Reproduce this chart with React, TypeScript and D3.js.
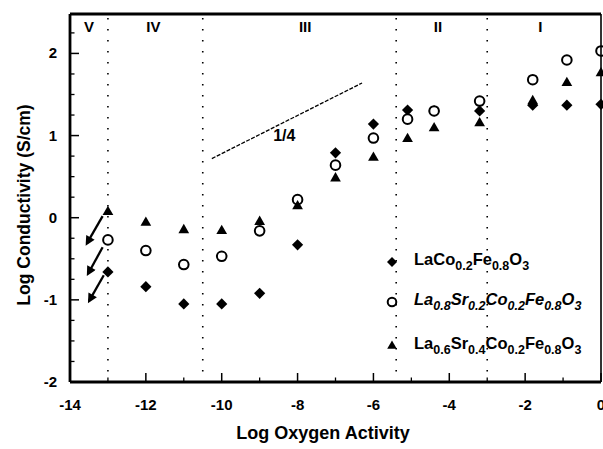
import React from "react";
import * as d3 from "d3";

// ---- data ----
const logOxygenActivity = [-13, -12, -11, -10, -9, -8, -7, -6, -5.1, -4.4, -3.2, -1.8, -0.9, 0];
const laCoFe = [-0.66, -0.84, -1.05, -1.05, -0.92, -0.33, 0.79, 1.14, 1.31, 1.3, 1.3, 1.37, 1.37, 1.38];
const laSr02 = [-0.27, -0.4, -0.57, -0.47, -0.16, 0.22, 0.64, 0.97, 1.2, 1.3, 1.42, 1.68, 1.92, 2.03];
const laSr04 = [0.07, -0.06, -0.15, -0.16, -0.05, 0.14, 0.48, 0.73, 0.96, 1.09, 1.15, 1.42, 1.64, 1.76];

const seriesNames = ["LaCo_{0.2}Fe_{0.8}O_{3}", "La_{0.8}Sr_{0.2}Co_{0.2}Fe_{0.8}O_{3}", "La_{0.6}Sr_{0.4}Co_{0.2}Fe_{0.8}O_{3}"];
const seriesItalic = [false, true, false];
const seriesShapes = ["diamond", "circle", "triangle"];

const xTicks = [-14, -12, -10, -8, -6, -4, -2, 0];
const xMinorTicks = [-13, -11, -9, -7, -5, -3, -1];
const yTicks = [-2, -1, 0, 1, 2];
const yMinorTicks = [-1.75, -1.5, -1.25, -0.75, -0.5, -0.25, 0.25, 0.5, 0.75, 1.25, 1.5, 1.75, 2.25];

const regionBounds = [-13, -10.5, -5.4, -3];
const regionLabels = ["V", "IV", "III", "II", "I"];
const regionLabelX = [-13.5, -11.8, -7.8, -4.3, -1.6];

// arrows [x1, y1, x2, y2]
const arrows = [
  [-13.14, 0.02, -13.55, -0.31],
  [-13.14, -0.36, -13.52, -0.68],
  [-13.11, -0.7, -13.49, -1.01],
];
// slope line
const slopeLine = [[-10.26, 0.72], [-6.3, 1.64]];
const slopeLabel = { x: -8.35, y: 0.93, text: "1/4" };

const W = 603, H = 449;
const FONT = "'Liberation Sans', Arial, Helvetica, sans-serif";

const x = d3.scaleLinear().domain([-14, 0]).range([70, 601]);
const y = d3.scaleLinear().domain([-2, 2.48]).range([382, 14]);

const diamondType: any = (d3 as any).symbolDiamond2 || {
  draw(ctx: any, size: number) {
    const r = Math.sqrt(size) * 0.62625;
    ctx.moveTo(0, -r); ctx.lineTo(r, 0); ctx.lineTo(0, r); ctx.lineTo(-r, 0); ctx.closePath();
  },
};

function markerPath(shape: string, scale = 1) {
  if (shape === "diamond") return d3.symbol().type(diamondType).size(80 * scale)()!;
  if (shape === "triangle") return d3.symbol().type(d3.symbolTriangle).size(50 * scale)()!;
  return d3.symbol().type(d3.symbolCircle).size(72 * scale)()!;
}

function Marker({ shape, cx, cy, scale = 1 }: { shape: string; cx: number; cy: number; scale?: number }) {
  if (shape === "circle") {
    return <circle cx={cx} cy={cy} r={4.8 * Math.sqrt(scale)} fill="white" stroke="black" strokeWidth={2} />;
  }
  return <path d={markerPath(shape, scale)} transform={`translate(${cx},${cy})`} fill="black" />;
}

function parseFormula(s: string) {
  const parts: { t: string; sub: boolean }[] = [];
  const re = /_\{([^}]*)\}|([^_]+)/g;
  let m;
  while ((m = re.exec(s))) {
    if (m[1] !== undefined) parts.push({ t: m[1], sub: true });
    else parts.push({ t: m[2], sub: false });
  }
  return parts;
}

function Formula({ text, xPos, yPos, italic }: { text: string; xPos: number; yPos: number; italic: boolean }) {
  const parts = parseFormula(text);
  let prevSub = false;
  return (
    <text x={xPos} y={yPos} fontFamily={FONT} fontWeight="bold" fontSize={16.5} fontStyle={italic ? "italic" : "normal"}>
      {parts.map((p, i) => {
        const dy = p.sub && !prevSub ? 5 : !p.sub && prevSub ? -5 : 0;
        prevSub = p.sub;
        return (
          <tspan key={i} dy={dy} fontSize={p.sub ? 12.5 : 16.5}>
            {p.t}
          </tspan>
        );
      })}
    </text>
  );
}

export default function App() {
  const series = [laCoFe, laSr02, laSr04];
  const left = x.range()[0], right = x.range()[1];
  const top = y.range()[1], bottom = y.range()[0];
  const slopePath = d3.line()(slopeLine.map(([a, b]) => [x(a), y(b)]) as [number, number][])!;
  const legendY = [262, 302, 346];

  return (
    <svg width={W} height={H} style={{ position: "absolute", left: 0, top: 0, background: "white" }}>
      <rect width={W} height={H} fill="white" />
      {/* region dotted lines */}
      {regionBounds.map((b, i) => (
        <line key={i} x1={x(b)} x2={x(b)} y1={top + 4} y2={bottom - 2} stroke="black" strokeWidth={1.6} strokeDasharray="1.5,9.5" />
      ))}
      {regionLabels.map((l, i) => (
        <text key={i} x={x(regionLabelX[i])} y={32} textAnchor="middle" fontFamily={FONT} fontWeight="bold" fontSize={15}>
          {l}
        </text>
      ))}
      {/* slope line */}
      <path d={slopePath} stroke="black" strokeWidth={1.3} strokeDasharray="4,1.5" fill="none" />
      <text x={x(slopeLabel.x)} y={y(slopeLabel.y)} textAnchor="middle" fontFamily={FONT} fontWeight="bold" fontSize={16}>
        {slopeLabel.text}
      </text>
      {/* arrows */}
      <defs>
        <marker id="ah" viewBox="0 0 10 10" refX="7" refY="5" markerWidth="5" markerHeight="4.2" orient="auto">
          <path d="M0,0 L10,5 L0,10 z" fill="black" />
        </marker>
      </defs>
      {arrows.map(([a, b, c, d], i) => (
        <line key={i} x1={x(a)} y1={y(b)} x2={x(c)} y2={y(d)} stroke="black" strokeWidth={2.3} markerEnd="url(#ah)" />
      ))}
      {/* data */}
      {series.map((vals, si) => (
        <g key={si}>
          {vals.map((v, i) => (
            <Marker key={i} shape={seriesShapes[si]} cx={x(logOxygenActivity[i])} cy={y(v)} />
          ))}
        </g>
      ))}
      {/* frame */}
      <line x1={left} x2={right} y1={top} y2={top} stroke="black" strokeWidth={2.8} />
      <line x1={left} x2={right} y1={bottom} y2={bottom} stroke="black" strokeWidth={2.8} />
      <line x1={left} x2={left} y1={top} y2={bottom} stroke="black" strokeWidth={2.8} />
      <line x1={right} x2={right} y1={top} y2={bottom} stroke="black" strokeWidth={1.6} />
      {/* x ticks */}
      {xTicks.map((t) => (
        <g key={t}>
          <line x1={x(t)} x2={x(t)} y1={bottom} y2={bottom - 9} stroke="black" strokeWidth={1.5} />
          <text x={x(t)} y={410} textAnchor="middle" fontFamily={FONT} fontWeight="bold" fontSize={15}>
            {t}
          </text>
        </g>
      ))}
      {xMinorTicks.map((t) => (
        <line key={t} x1={x(t)} x2={x(t)} y1={bottom} y2={bottom - 4.5} stroke="black" strokeWidth={1.3} />
      ))}
      {/* y ticks */}
      {yTicks.map((t) => (
        <g key={t}>
          <line x1={left} x2={left + 9} y1={y(t)} y2={y(t)} stroke="black" strokeWidth={1.5} />
          <text x={57} y={y(t) + 5} textAnchor="end" fontFamily={FONT} fontWeight="bold" fontSize={15}>
            {t}
          </text>
        </g>
      ))}
      {yMinorTicks.map((t) => (
        <line key={t} x1={left} x2={left + 4.5} y1={y(t)} y2={y(t)} stroke="black" strokeWidth={1.3} />
      ))}
      {/* axis titles */}
      <text x={323} y={439} textAnchor="middle" fontFamily={FONT} fontWeight="bold" fontSize={18}>
        Log Oxygen Activity
      </text>
      <text transform={`translate(30,205) rotate(-90)`} textAnchor="middle" fontFamily={FONT} fontWeight="bold" fontSize={17.5}>
        Log Conductivity  (S/cm)
      </text>
      {/* legend */}
      {seriesNames.map((n, i) => (
        <g key={i}>
          <Marker shape={seriesShapes[i]} cx={392} cy={legendY[i]} scale={0.8} />
          <Formula text={n} xPos={414} yPos={legendY[i] + 3} italic={seriesItalic[i]} />
        </g>
      ))}
    </svg>
  );
}
